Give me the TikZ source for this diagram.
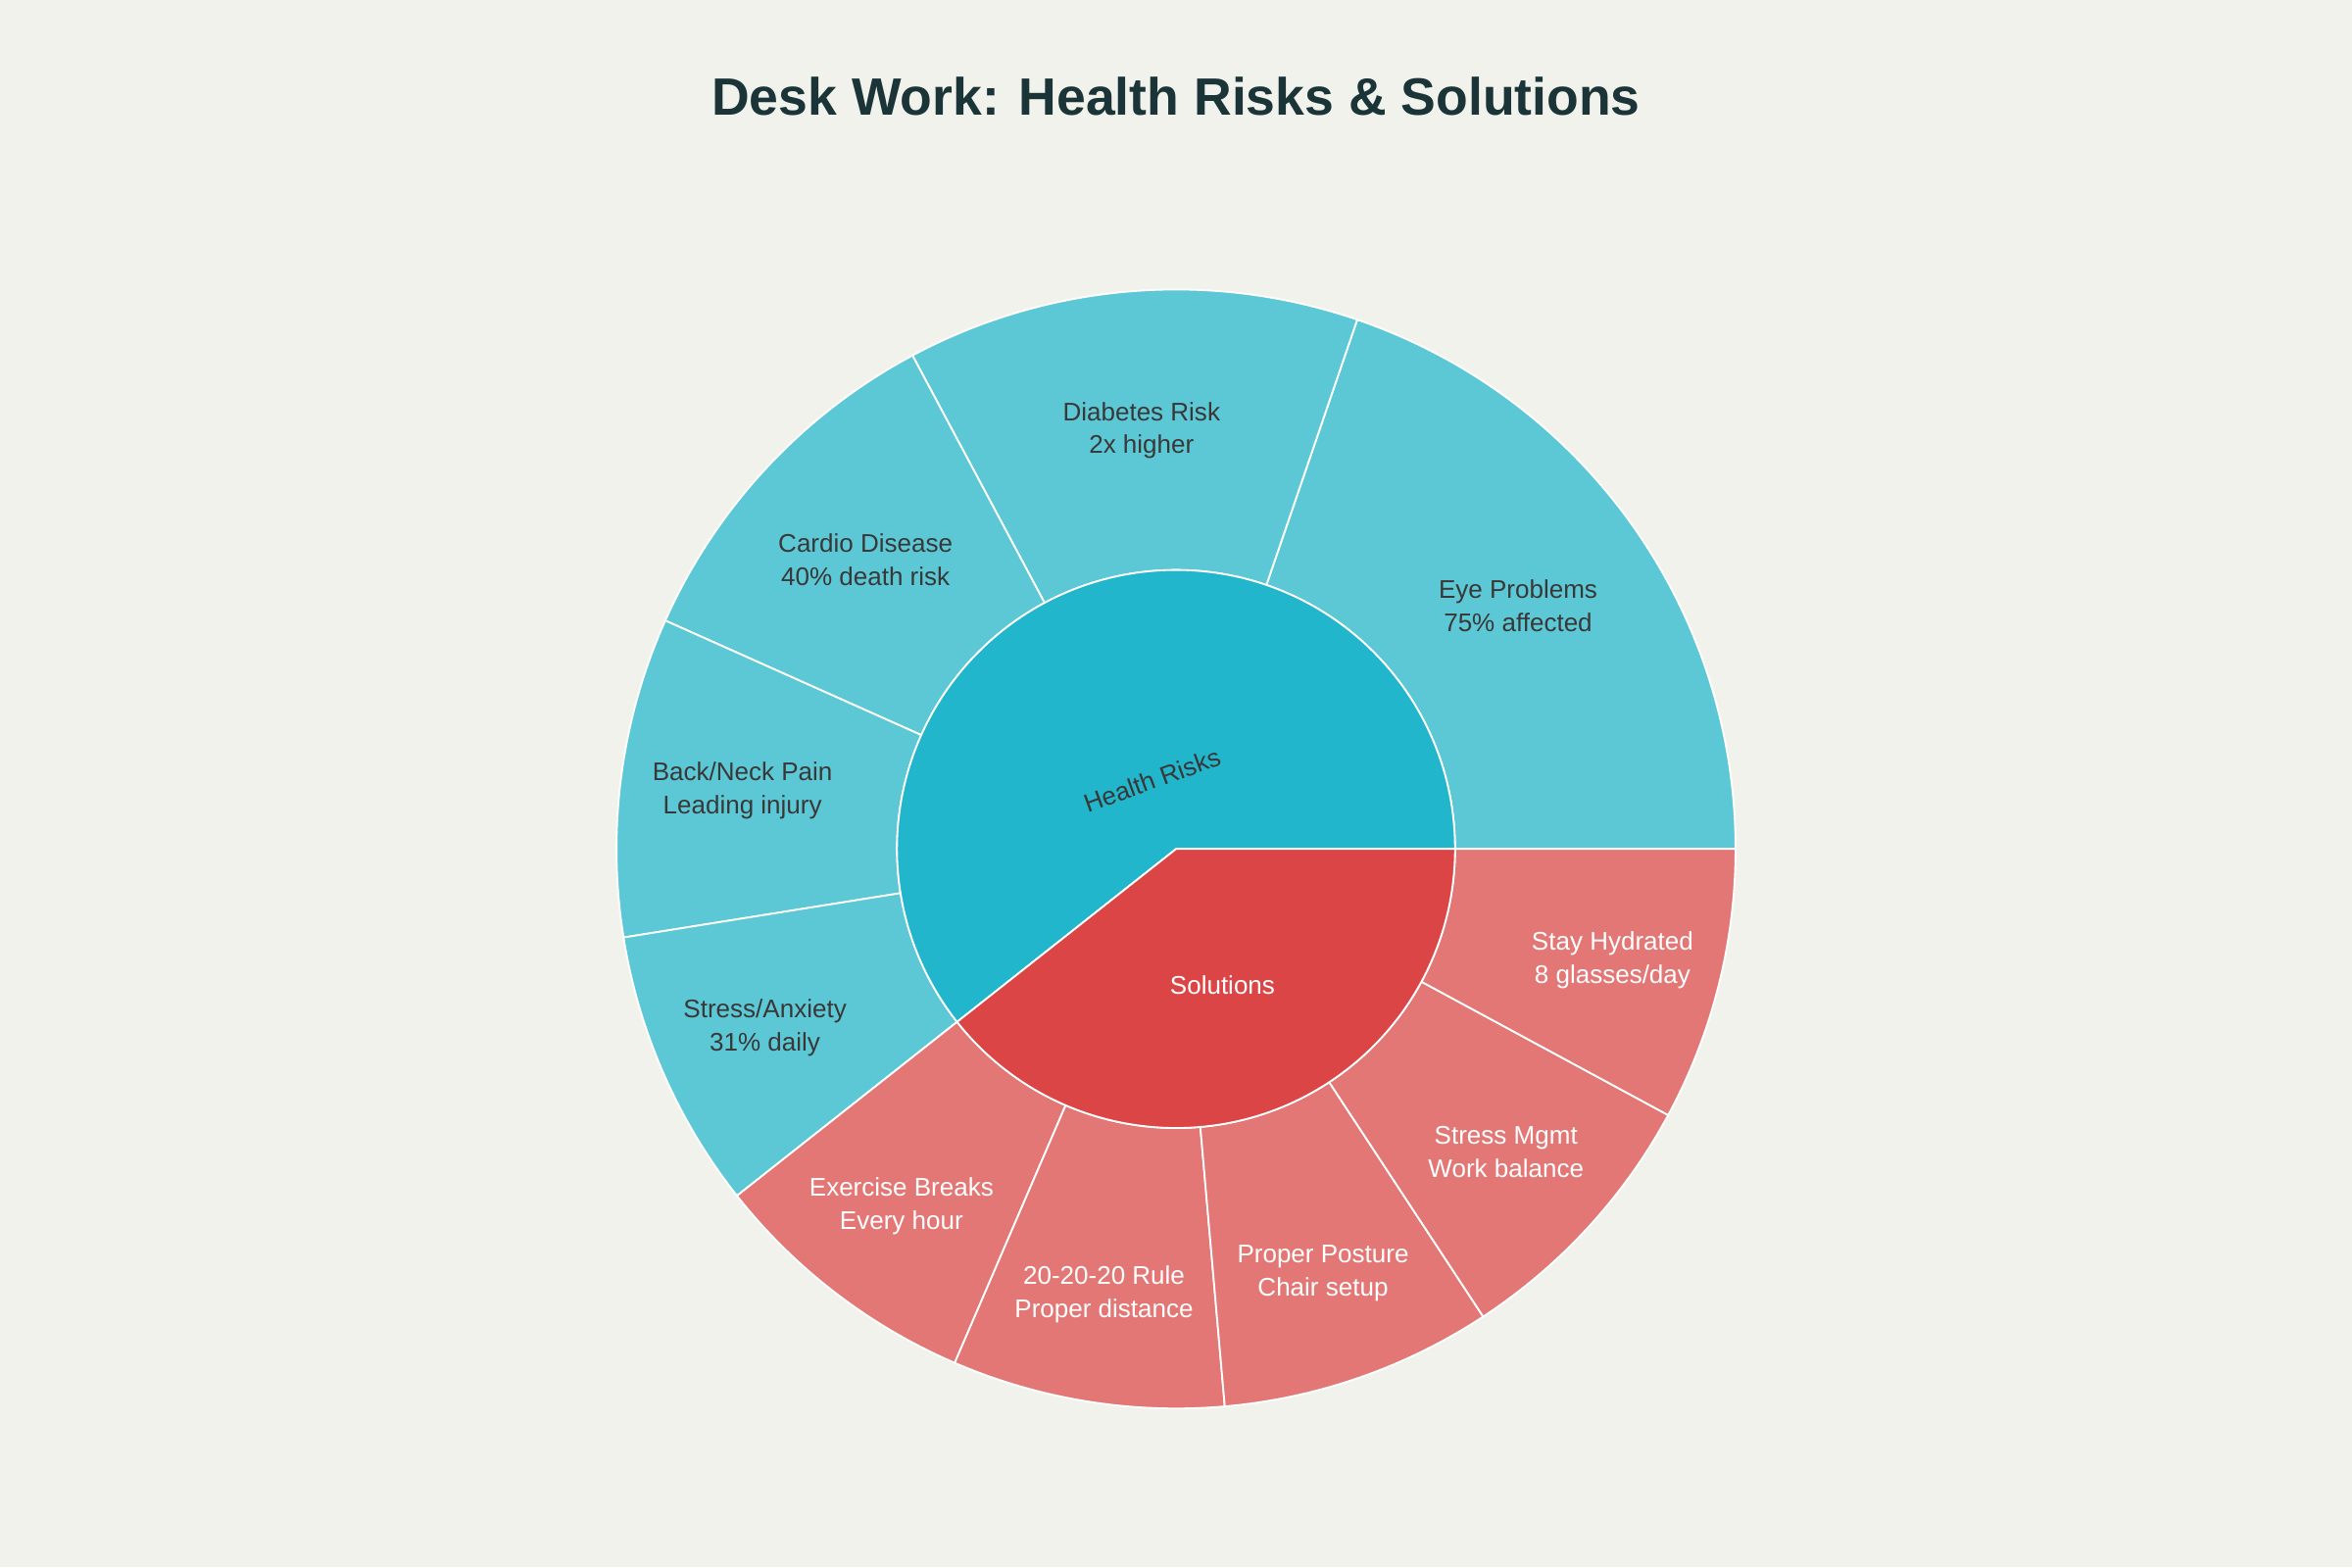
\documentclass[tikz,border=0pt]{standalone}
\usepackage{fontspec}
\setmainfont{Liberation Sans}
\begin{document}
\begin{tikzpicture}[x=1pt,y=1pt,
  lbl/.style={align=center,font=\fontsize{17}{22}\selectfont,text=black!78},
  wlbl/.style={align=center,font=\fontsize{17}{22}\selectfont,text=white},
  seg/.style={draw=white,line width=1.2pt}]
\definecolor{bg}{HTML}{F2F2EC}
\definecolor{tout}{HTML}{5DC8D5}
\definecolor{tin}{HTML}{21B6CB}
\definecolor{rin}{HTML}{DB4546}
\definecolor{rout}{HTML}{E37775}
\definecolor{ttl}{HTML}{1B3438}
\fill[bg] (0,0) rectangle (1568,1045);
\useasboundingbox (0,0) rectangle (1568,1045);
\node[font=\fontsize{35}{40}\selectfont\bfseries,text=ttl] (title) at (784,981) {Desk Work: Health Risks \& Solutions};
\begin{scope}[shift={(784,479)}]
\def\Ri{186}\def\Ro{373}
\foreach \a/\b/\c in {0/71.1/tout,71.1/118.1/tout,118.1/155.9/tout,155.9/189.1/tout,189.1/218.3/tout,
  218.3/246.7/rout,246.7/275/rout,275/303.3/rout,303.3/331.6/rout,331.6/360/rout}{
  \filldraw[seg,fill=\c] (\a:\Ri) arc (\a:\b:\Ri) -- (\b:\Ro) arc (\b:\a:\Ro) -- cycle;
}
\filldraw[seg,fill=tin] (0,0) -- (0:\Ri) arc (0:218.3:\Ri) -- cycle;
\filldraw[seg,fill=rin] (0,0) -- (218.3:\Ri) arc (218.3:360:\Ri) -- cycle;
\end{scope}
\node[lbl,rotate=20] (hr) at (768,525) {Health Risks};
\node[wlbl] (sol) at (815,388) {Solutions};
\node[lbl] (eye) at (1012,641) {Eye Problems\\75\% affected};
\node[lbl] (dia) at (761,758) {Diabetes Risk\\2x higher};
\node[lbl] (car) at (577,672) {Cardio Disease\\40\% death risk};
\node[lbl] (bac) at (495,518) {Back/Neck Pain\\Leading injury};
\node[lbl] (str) at (510,360) {Stress/Anxiety\\31\% daily};
\node[wlbl] (hyd) at (1075,405) {Stay Hydrated\\8 glasses/day};
\node[wlbl] (mgm) at (1004,277) {Stress Mgmt\\Work balance};
\node[wlbl] (pos) at (882,196) {Proper Posture\\Chair setup};
\node[wlbl] (rul) at (736,182) {20-20-20 Rule\\Proper distance};
\node[wlbl] (exe) at (601,241) {Exercise Breaks\\Every hour};
\end{tikzpicture}
\end{document}
